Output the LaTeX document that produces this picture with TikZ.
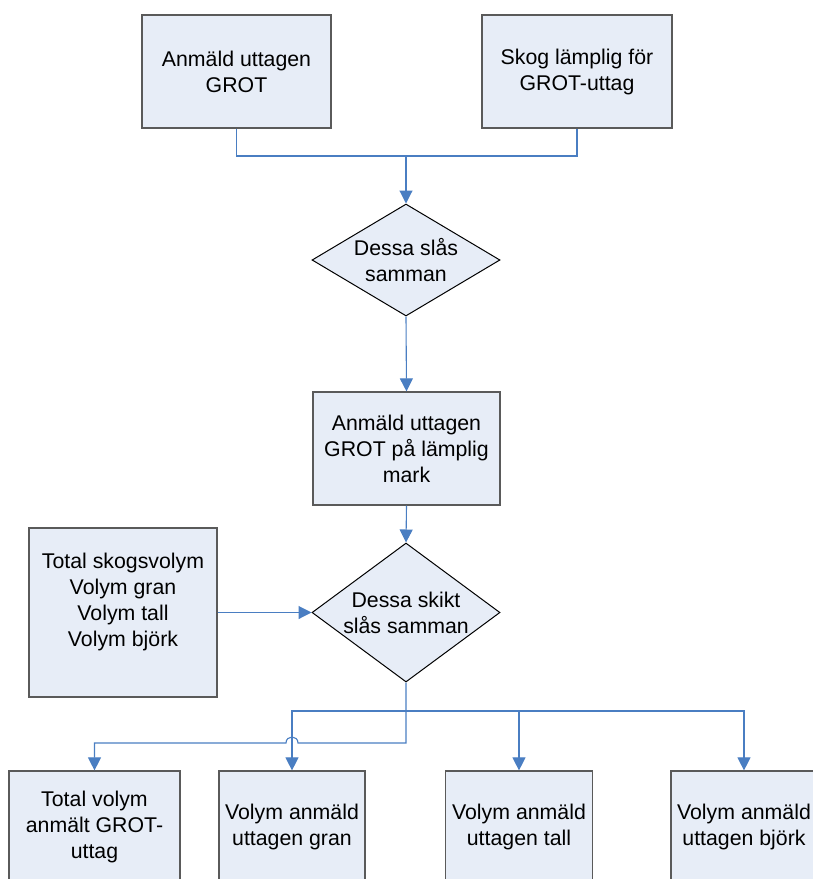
\documentclass[tikz,border=0pt]{standalone}
\usepackage{fontspec}
\setmainfont{Liberation Sans}
\usetikzlibrary{shapes.geometric,arrows.meta}
\definecolor{boxfill}{RGB}{231,237,247}
\definecolor{boxline}{RGB}{90,90,90}
\definecolor{conncol}{RGB}{74,126,194}
\tikzset{
  box/.style={draw=boxline,fill=boxfill,line width=1.2pt,rectangle,inner sep=0pt,
    font=\fontsize{21.3}{26}\selectfont,align=center},
  dia/.style={draw=black,fill=boxfill,line width=1pt,diamond,inner sep=0pt,
    minimum width=188pt,minimum height=112pt},
  txt/.style={font=\fontsize{21.3}{26}\selectfont,align=center,inner sep=0pt},
  conn/.style={draw=conncol,line width=1.1pt},
  arr/.style={conn,-{Triangle[length=13pt,width=13pt]}}
}
\begin{document}
\begin{tikzpicture}[x=1pt,y=-1pt]
\useasboundingbox (0,0) rectangle (813,879);
\clip (0,0) rectangle (813,879);
% top boxes
\node[box,minimum width=189pt,minimum height=113pt] (A) at (236.5,71.5) {Anmäld uttagen\\GROT};
\node[box,minimum width=190pt,minimum height=113pt] (B) at (577,71.5) {Skog lämplig för\\GROT-uttag};
% diamond 1
\node[dia] (d1) at (406,260) {};
\node[txt] (d1t) at (406,260) {Dessa slås\\samman};
% box C
\node[box,minimum width=187pt,minimum height=113pt] (C) at (406.5,448.5) {Anmäld uttagen\\GROT på lämplig\\mark};
% diamond 2
\node[dia,minimum height=139pt] (d2) at (406,612.5) {};
\node[txt] (d2t) at (406,612.5) {Dessa skikt\\slås samman};
% box D
\node[box,minimum width=188pt,minimum height=169pt] (D) at (123,612.5) {};
\node[txt] (Dt) at (123,602) {Total skogsvolym\\Volym gran\\Volym tall\\Volym björk};
% bottom boxes
\node[box,minimum width=171pt,minimum height=112pt] (E) at (94.5,827) {Total volym\\anmält GROT-\\uttag};
\node[box,minimum width=146pt,minimum height=112pt] (F) at (292,827) {Volym anmäld\\uttagen gran};
\node[box,minimum width=147pt,minimum height=112pt] (G) at (519,827) {Volym anmäld\\uttagen tall};
\node[box,minimum width=146pt,minimum height=112pt] (H) at (744,827) {Volym anmäld\\uttagen björk};
% junction coordinates
\coordinate (j1) at (406,156);
\coordinate (j2) at (406,711);
\coordinate (j3) at (406,743);
\coordinate (h1) at (298,743);
\coordinate (h2) at (286,743);
% connectors
\draw[conn] (A.south) |- (j1) -| (B.south);
\draw[arr] (j1) -- (d1.north);
\draw[arr] (d1.south) -- (C.north);
\draw[arr] (C.south) -- (d2.north);
\draw[arr] (D.east) -- (d2.west);
\draw[arr] (d2.south) -- (j3) -- (h1) .. controls (298,735) and (286,735) .. (h2) -| (E.north);
\draw[arr] (j2) -| (F.north);
\draw[arr] (j2) -| (G.north);
\draw[arr] (j2) -| (H.north);
\end{tikzpicture}
\end{document}
